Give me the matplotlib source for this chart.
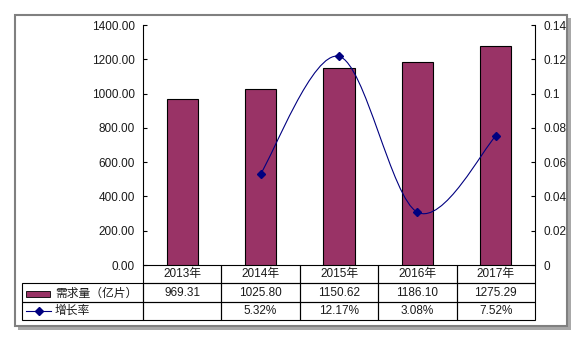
import matplotlib.pyplot as plt
from matplotlib.path import Path
from matplotlib.patches import PathPatch, Rectangle
from matplotlib.lines import Line2D

plt.rcParams['font.family'] = ['Liberation Sans', 'Noto Sans CJK SC', 'DejaVu Sans']

# 数据
years = ['2013年', '2014年', '2015年', '2016年', '2017年']
demand = [969.31, 1025.80, 1150.62, 1186.10, 1275.29]
demand_text = ['969.31', '1025.80', '1150.62', '1186.10', '1275.29']
growth = [None, 0.0532, 0.1217, 0.0308, 0.0752]
growth_text = ['', '5.32%', '12.17%', '3.08%', '7.52%']
left_ticks = [0, 200, 400, 600, 800, 1000, 1200, 1400]
right_ticks = [0, 0.02, 0.04, 0.06, 0.08, 0.10, 0.12, 0.14]
right_labels = ['0', '0.02', '0.04', '0.06', '0.08', '0.1', '0.12', '0.14']
series_names = ['需求量（亿片）', '增长率']

bar_color = '#993366'
line_color = '#000080'
text_color = '#1a1a1a'
fs = 8.5
W, H = 585, 342

fig = plt.figure(figsize=(W / 100, H / 100), dpi=100)
fig.patch.set_facecolor('white')

# 外框 + 阴影
fig.patches.append(Rectangle((18 / W, 1 - 330 / H), 553 / W, 312 / H, transform=fig.transFigure,
                             facecolor='#a8a8a8', edgecolor='none', zorder=-3))
fig.patches.append(Rectangle((15 / W, 1 - 326 / H), 552 / W, 311 / H, transform=fig.transFigure,
                             facecolor='white', edgecolor='#808080', lw=1.5, zorder=-2))

x0, x1, y0, y1 = 143, 535, 25, 265
ax = fig.add_axes([x0 / W, 1 - y1 / H, (x1 - x0) / W, (y1 - y0) / H])
ax.patch.set_alpha(0)
n = len(years)
xs = list(range(n))

ax.bar(xs, demand, width=0.4, color=bar_color, edgecolor='black', linewidth=0.8, zorder=2)
ax.set_xlim(-0.5, n - 0.5)
ax.set_ylim(0, 1400)
ax.set_yticks(left_ticks)
ax.set_yticklabels(['%.2f' % v for v in left_ticks])
ax.set_xticks([])
for s in ['top', 'bottom', 'right']:
    ax.spines[s].set_visible(False)
ax.spines['left'].set_linewidth(0.8)
ax.tick_params(axis='y', direction='in', length=3, width=0.8, labelsize=fs, pad=6,
               colors='black', labelcolor=text_color)

ax2 = ax.twinx()
ax2.patch.set_alpha(0)
ax2.set_ylim(0, 0.14)
ax2.set_yticks(right_ticks)
ax2.set_yticklabels(right_labels)
for s in ['top', 'bottom', 'left']:
    ax2.spines[s].set_visible(False)
ax2.spines['right'].set_linewidth(0.8)
ax2.tick_params(axis='y', direction='in', length=3, width=0.8, labelsize=fs, pad=6,
                labelcolor=text_color)

# 平滑曲线 (Catmull-Rom -> Bezier)
pts = [(x, g) for x, g in zip(xs, growth) if g is not None]
verts = [pts[0]]
codes = [Path.MOVETO]
for i in range(len(pts) - 1):
    p0 = pts[i - 1] if i > 0 else pts[i]
    p1 = pts[i]
    p2 = pts[i + 1]
    p3 = pts[i + 2] if i + 2 < len(pts) else pts[i + 1]
    c1 = (p1[0] + (p2[0] - p0[0]) / 6, p1[1] + (p2[1] - p0[1]) / 6)
    c2 = (p2[0] - (p3[0] - p1[0]) / 6, p2[1] - (p3[1] - p1[1]) / 6)
    verts += [c1, c2, p2]
    codes += [Path.CURVE4] * 3
ax2.add_patch(PathPatch(Path(verts, codes), facecolor='none', edgecolor=line_color, lw=0.8, zorder=3))
ax2.plot([p[0] for p in pts], [p[1] for p in pts], linestyle='none', marker='D',
         markersize=4, color=line_color, zorder=4)

# 数据表
tx0 = 22
widths = [(x0 - tx0) / (x1 - x0)] + [1.0 / n] * n
cell_text = [[''] + years, [''] + demand_text, [''] + growth_text]
tb = ax.table(cellText=cell_text, colWidths=widths, cellLoc='center',
              bbox=[(tx0 - x0) / (x1 - x0), -55 / (y1 - y0), (x1 - tx0) / (x1 - x0), 55 / (y1 - y0)])
tb.auto_set_font_size(False)
tb.set_fontsize(fs)
for (r, c), cell in tb.get_celld().items():
    cell.set_linewidth(0.8)
    cell.set_edgecolor('black')
    cell.set_facecolor('none')
    cell.get_text().set_color(text_color)
    if r == 0 and c == 0:
        cell.visible_edges = ''

# 图例键
def fx(px):
    return (px - x0) / (x1 - x0)

def fy(py):
    return (y1 - py) / (y1 - y0)

ax.add_patch(Rectangle((fx(26), fy(297)), fx(50) - fx(26), fy(291) - fy(297), transform=ax.transAxes,
                       facecolor=bar_color, edgecolor='black', lw=0.6, clip_on=False))
ax.add_line(Line2D([fx(26), fx(51)], [fy(311), fy(311)], transform=ax.transAxes, color=line_color,
                   lw=0.8, clip_on=False))
ax.add_line(Line2D([fx(38.5)], [fy(311)], transform=ax.transAxes, color=line_color, marker='D',
                   markersize=4, clip_on=False))
ax.text(fx(55), fy(293.5), series_names[0], transform=ax.transAxes, fontsize=fs, color=text_color,
        va='center', ha='left')
ax.text(fx(55), fy(311), series_names[1], transform=ax.transAxes, fontsize=fs, color=text_color,
        va='center', ha='left')

fig.savefig('out.png', dpi=100)
